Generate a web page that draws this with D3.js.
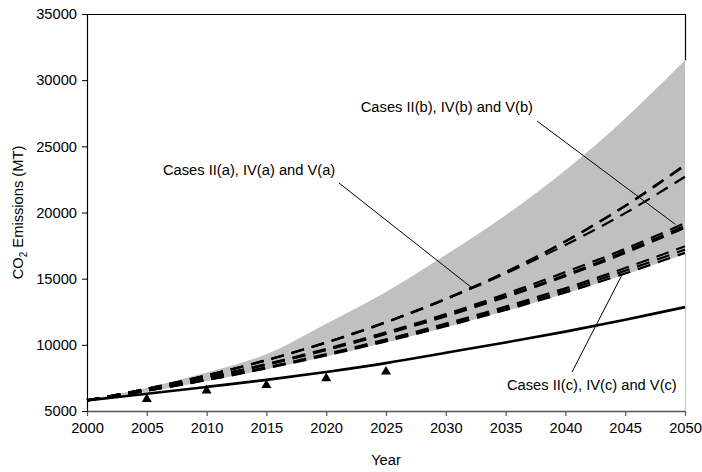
<!DOCTYPE html>
<html>
<head>
<meta charset="utf-8">
<script src="https://cdn.jsdelivr.net/npm/d3@7"></script>
<style>
  html, body { margin: 0; padding: 0; background: #fff; }
  svg { display: block; font-family: "Liberation Sans", Arial, sans-serif; }
</style>
</head>
<body>
<svg id="chart" width="702" height="472"></svg>
<script>
// Projection years
const years = [2000, 2005, 2010, 2015, 2020, 2025, 2030, 2035, 2040, 2045, 2050];

// Shaded envelope of all scenarios
const rangeUpper = [5800, 6750, 7900, 9300, 11600, 14000, 16800, 19800, 23200, 27100, 31500];
const rangeLower = [5800, 6450, 7250, 8150, 9120, 10180, 11320, 12550, 13870, 15310, 16870];

// Reference (solid) projection
const baseCase = [5800, 6300, 6820, 7350, 7950, 8620, 9400, 10180, 11000, 11900, 12850];

// Observed / reported points
const obsYears = [2005, 2010, 2015, 2020, 2025];
const obsValues = [5900, 6550, 6950, 7470, 7970];

// Scenario projections (dashed)
const caseIIa = [5800, 6680, 7690, 8850, 10180, 11720, 13480, 15500, 17830, 20520, 23600];
const caseIVa = [5800, 6670, 7680, 8830, 10160, 11690, 13450, 15470, 17800, 20480, 23550];
const caseVa  = [5800, 6680, 7690, 8850, 10180, 11720, 13460, 15400, 17550, 19950, 22700];
const caseIIb = [5800, 6610, 7530, 8550, 9690, 10950, 12320, 13840, 15500, 17250, 19200];
const caseIVb = [5800, 6603, 7501, 8512, 9630, 10865, 12210, 13682, 15285, 17059, 19000];
const caseVb  = [5800, 6597, 7489, 8491, 9600, 10822, 12151, 13605, 15187, 16937, 18850];
const caseIIc = [5800, 6546, 7374, 8297, 9307, 10411, 11602, 12890, 14279, 15800, 17450];
const caseIVc = [5800, 6537, 7352, 8261, 9255, 10338, 11502, 12761, 14116, 15598, 17200];
const caseVc  = [5800, 6528, 7331, 8226, 9201, 10263, 11403, 12632, 13953, 15396, 16950];
const scenarios = [caseIIa, caseIVa, caseVa, caseIIb, caseIVb, caseVb, caseIIc, caseIVc, caseVc];

// Axis ticks
const xTicks = [2000, 2005, 2010, 2015, 2020, 2025, 2030, 2035, 2040, 2045, 2050];
const yTicks = [5000, 10000, 15000, 20000, 25000, 30000, 35000];

// Group callouts: label text and the point on the curves they point to
const callouts = [
  { text: "Cases II(a), IV(a) and V(a)", year: 2032.2, value: 14300 },
  { text: "Cases II(b), IV(b) and V(b)", year: 2049.2, value: 19100 },
  { text: "Cases II(c), IV(c) and V(c)", year: 2044.8, value: 15400 }
];

const svg = d3.select("#chart");
const fontSize = 14.7;
const smooth = d3.curveCatmullRom.alpha(0.5);

const x = d3.scaleLinear().domain([2000, 2050]).range([87, 685]);
const y = d3.scaleLinear().domain([5000, 35000]).range([411, 14]);

// Envelope band
const bandData = years.map((yr, i) => ({ yr, lo: rangeLower[i], hi: rangeUpper[i] }));
svg.append("path")
  .datum(bandData)
  .attr("fill", "#c0c0c0")
  .attr("d", d3.area()
    .x(d => x(d.yr))
    .y0(d => y(d.lo))
    .y1(d => y(d.hi))
    .curve(smooth));

// Plot frame (top and right)
svg.append("line").attr("x1", x(2000)).attr("x2", x(2050)).attr("y1", y(35000) + 0.5).attr("y2", y(35000) + 0.5)
  .attr("stroke", "#000").attr("stroke-width", 1.2);
svg.append("line").attr("x1", x(2050) + 0.5).attr("x2", x(2050) + 0.5).attr("y1", y(35000)).attr("y2", y(rangeUpper[rangeUpper.length - 1]))
  .attr("stroke", "#000").attr("stroke-width", 1.2);
svg.append("line").attr("x1", x(2050) + 0.5).attr("x2", x(2050) + 0.5).attr("y1", y(rangeLower[rangeLower.length - 1])).attr("y2", y(5000))
  .attr("stroke", "#d0d0d0").attr("stroke-width", 1.5);

const line = d3.line().x((d, i) => x(years[i])).y(d => y(d)).curve(smooth);

// Scenario curves
svg.append("g").selectAll("path")
  .data(scenarios)
  .join("path")
  .attr("fill", "none")
  .attr("stroke", "#000")
  .attr("stroke-width", 2.2)
  .attr("stroke-dasharray", "13,8")
  .attr("d", line);

// Base case
svg.append("path")
  .datum(baseCase)
  .attr("fill", "none")
  .attr("stroke", "#000")
  .attr("stroke-width", 2.6)
  .attr("d", line);

// Observed markers
svg.append("g").selectAll("path")
  .data(obsYears)
  .join("path")
  .attr("transform", (d, i) => `translate(${x(d)},${y(obsValues[i])})`)
  .attr("d", d3.symbol(d3.symbolTriangle, 44))
  .attr("fill", "#000");

// Axes
const xAxis = svg.append("g")
  .attr("transform", `translate(0,${y(5000)})`)
  .call(d3.axisBottom(x).tickValues(xTicks).tickFormat(d3.format("d")).tickSize(5).tickSizeOuter(0));
xAxis.select(".domain").attr("stroke", "#555").attr("stroke-width", 1.5);
xAxis.selectAll(".tick line").attr("stroke", "#555").attr("stroke-width", 1.2);
xAxis.selectAll(".tick text").attr("font-size", fontSize).attr("font-family", "Liberation Sans, Arial, sans-serif")
  .attr("fill", "#000").attr("y", 12);

const yAxis = svg.append("g")
  .attr("transform", `translate(${x(2000)},0)`)
  .call(d3.axisLeft(y).tickValues(yTicks).tickFormat(d3.format("d")).tickSize(5).tickSizeOuter(0));
yAxis.select(".domain").attr("stroke", "#000").attr("stroke-width", 1.2);
yAxis.selectAll(".tick line").attr("stroke", "#000");
yAxis.selectAll(".tick text").attr("font-size", fontSize).attr("font-family", "Liberation Sans, Arial, sans-serif")
  .attr("fill", "#000").attr("x", -10);

// Axis titles
svg.append("text")
  .attr("x", x(2025)).attr("y", 465)
  .attr("text-anchor", "middle")
  .attr("font-size", fontSize)
  .text("Year");

const yTitle = svg.append("text")
  .attr("transform", `translate(23,${y(20000)}) rotate(-90)`)
  .attr("text-anchor", "middle")
  .attr("font-size", fontSize);
yTitle.append("tspan").text("CO");
yTitle.append("tspan").attr("font-size", fontSize * 0.68).attr("dy", 4).text("2");
yTitle.append("tspan").attr("dy", -4).text(" Emissions (MT)");

// Callouts: label position and the start of each leader line
const calloutLayout = [
  { tx: 163, ty: 175, anchor: "start", lx: 339, ly: 183 },
  { tx: 533, ty: 112, anchor: "end",   lx: 537, ly: 121 },
  { tx: 507, ty: 390, anchor: "start", lx: 572, ly: 372 }
];
callouts.forEach((c, i) => {
  const L = calloutLayout[i];
  svg.append("line")
    .attr("x1", L.lx).attr("y1", L.ly)
    .attr("x2", x(c.year)).attr("y2", y(c.value))
    .attr("stroke", "#000").attr("stroke-width", 1);
  svg.append("text")
    .attr("x", L.tx).attr("y", L.ty)
    .attr("text-anchor", L.anchor)
    .attr("font-size", fontSize)
    .text(c.text);
});
</script>
</body>
</html>
